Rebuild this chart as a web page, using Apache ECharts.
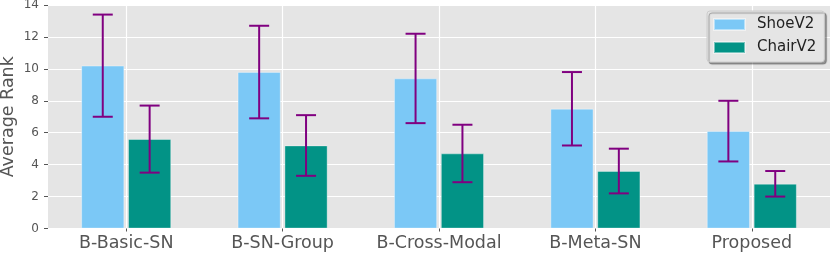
<!DOCTYPE html>
<html>
<head>
<meta charset="utf-8">
<script src="https://cdn.jsdelivr.net/npm/echarts@6/dist/echarts.min.js"></script>
<style>html,body{margin:0;padding:0;background:#fff}#c{width:831px;height:255px}</style>
</head>
<body>
<div id="c"></div>
<script>
const categories = ['B-Basic-SN', 'B-SN-Group', 'B-Cross-Modal', 'B-Meta-SN', 'Proposed'];
const shoeMean = [10.2, 9.8, 9.4, 7.5, 6.1];
const shoeLow  = [7.0, 6.9, 6.6, 5.2, 4.2];
const shoeHigh = [13.4, 12.7, 12.2, 9.8, 8.0];
const chairMean = [5.6, 5.2, 4.7, 3.6, 2.8];
const chairLow  = [3.5, 3.3, 2.9, 2.2, 2.0];
const chairHigh = [7.7, 7.1, 6.5, 5.0, 3.6];
const yTicks = [0, 2, 4, 6, 8, 10, 12, 14];

const BAR_FRAC = 0.275, GAP = 0.09;
const FONT = '"DejaVu Sans", sans-serif';
const ERR_COLOR = '#800080';

function errSeries(name, lows, highs, sign) {
  return {
    type: 'custom', name: name, z: 5, silent: true,
    data: categories.map((c, i) => [i, lows[i], highs[i]]),
    encode: { x: 0, y: [1, 2] },
    renderItem: function (params, api) {
      const band = api.size([1, 0])[0];
      const off = sign * band * BAR_FRAC * (1 + GAP) / 2;
      const lo = api.coord([api.value(0), api.value(1)]);
      const hi = api.coord([api.value(0), api.value(2)]);
      const x = lo[0] + off, cap = 10;
      const st = { stroke: ERR_COLOR, lineWidth: 2 };
      return { type: 'group', children: [
        { type: 'line', shape: { x1: x, y1: lo[1], x2: x, y2: hi[1] }, style: st },
        { type: 'line', shape: { x1: x - cap, y1: hi[1], x2: x + cap, y2: hi[1] }, style: st },
        { type: 'line', shape: { x1: x - cap, y1: lo[1], x2: x + cap, y2: lo[1] }, style: st }
      ]};
    }
  };
}

const chart = echarts.init(document.getElementById('c'), null, { renderer: 'canvas' });
chart.setOption({
  animation: false,
  textStyle: { fontFamily: FONT },
  grid: { left: 48, right: 1, top: 5, bottom: 26.5, show: true, backgroundColor: '#e5e5e5', borderWidth: 0,
          containLabel: false, outerBoundsMode: 'none' },
  legend: {
    data: ['ShoeV2', 'ChairV2'],
    orient: 'vertical', left: 707, top: 11,
    itemWidth: 31, itemHeight: 11, itemGap: 6,
    padding: [5, 8, 6, 6],
    backgroundColor: '#e5e5e5', borderColor: '#cccccc', borderWidth: 1, borderRadius: 3,
    shadowColor: 'rgba(0,0,0,0.35)', shadowOffsetX: 2, shadowOffsetY: 2, shadowBlur: 1,
    icon: 'rect',
    textStyle: { fontFamily: FONT, fontSize: 15, color: '#222', lineHeight: 17, padding: [0, 0, 0, 7] }
  },
  xAxis: {
    type: 'category', data: categories,
    axisLine: { show: false },
    axisTick: { show: true, alignWithLabel: true, length: 3, lineStyle: { color: '#555' } },
    axisLabel: { fontFamily: FONT, fontSize: 17.5, color: '#555', margin: 6, interval: 0 },
    splitLine: { show: true, alignWithLabel: true, interval: 0, lineStyle: { color: '#ffffff', width: 1.2 } }
  },
  yAxis: {
    type: 'value', min: yTicks[0], max: yTicks[yTicks.length - 1], interval: 2,
    name: 'Average Rank', nameLocation: 'middle', nameGap: 31, nameRotate: 90, nameMoveOverlap: false,
    nameTextStyle: { fontFamily: FONT, fontSize: 17.5, color: '#555' },
    axisLine: { show: false },
    axisTick: { show: true, length: 4, lineStyle: { color: '#555' } },
    axisLabel: { fontFamily: FONT, fontSize: 12, color: '#555', margin: 9 },
    splitLine: { show: true, lineStyle: { color: '#ffffff', width: 1.2 } }
  },
  series: [
    { type: 'bar', name: 'ShoeV2', data: shoeMean, barWidth: (BAR_FRAC * 100) + '%', barGap: (GAP * 100) + '%',
      itemStyle: { color: '#7bc8f6', borderColor: 'rgba(255,255,255,0.45)', borderWidth: 0.8 }, z: 2 },
    { type: 'bar', name: 'ChairV2', data: chairMean, barWidth: (BAR_FRAC * 100) + '%', barGap: (GAP * 100) + '%',
      itemStyle: { color: '#029386', borderColor: 'rgba(255,255,255,0.45)', borderWidth: 0.8 }, z: 2 },
    errSeries('errShoe', shoeLow, shoeHigh, -1),
    errSeries('errChair', chairLow, chairHigh, 1)
  ]
});
</script>
</body>
</html>
